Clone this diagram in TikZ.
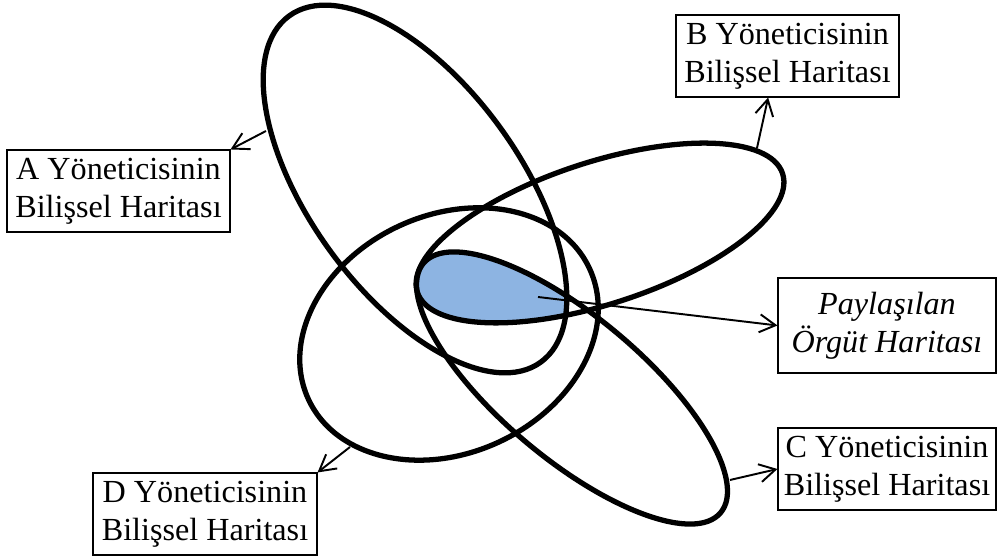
\documentclass[tikz,border=0pt]{standalone}
\usepackage{fontspec}
\setmainfont{Liberation Serif}
\usepackage{tikz}
\usetikzlibrary{arrows.meta, positioning}
\definecolor{sharedblue}{RGB}{141, 180, 226}

\begin{document}
\begin{tikzpicture}[
    every node/.style={font=\fontsize{18.3}{21.5}\selectfont},
    mapbox/.style={draw, line width=0.6pt, align=center, inner sep=0pt, minimum height=1.64cm},
    mapline/.style={line width=3pt},
    pointer/.style={-{Straight Barb[length=3.2mm, width=3.6mm]}, line width=1.1pt}]
  \useasboundingbox (0, 0) rectangle (19.94, 11.18);

  % Shared area (inside all four maps)
  \begin{scope}
    \clip[rotate around={-54:(8.30, 7.40)}] (8.30, 7.40) ellipse [x radius=4.28, y radius=2.10];
    \clip[rotate around={18:(12.00, 6.52)}] (12.00, 6.52) ellipse [x radius=3.84, y radius=1.42];
    \clip[rotate around={-40:(11.44, 3.42)}] (11.44, 3.42) ellipse [x radius=3.88, y radius=1.42];
    \clip[rotate around={25:(8.98, 4.50)}] (8.98, 4.50) ellipse [x radius=3.10, y radius=2.38];
    \fill[sharedblue] (0, 0) rectangle (19.94, 11.18);
  \end{scope}

  % Cognitive maps
  \draw[mapline, rotate around={-54:(8.30, 7.40)}]
    (8.30, 7.40) ellipse [x radius=4.28, y radius=2.10];
  \draw[mapline, rotate around={18:(12.00, 6.52)}]
    (12.00, 6.52) ellipse [x radius=3.84, y radius=1.42];
  \draw[mapline, rotate around={-40:(11.44, 3.42)}]
    (11.44, 3.42) ellipse [x radius=3.88, y radius=1.42];
  \draw[mapline, rotate around={25:(8.98, 4.50)}]
    (8.98, 4.50) ellipse [x radius=3.10, y radius=2.38];

  % Labels
  \node[mapbox, minimum width=4.46cm] (aBox) at (2.37, 7.36)
    {A Yöneticisinin\\Bilişsel Haritası};
  \node[mapbox, minimum width=4.46cm] (bBox) at (15.75, 10.06)
    {B Yöneticisinin\\Bilişsel Haritası};
  \node[mapbox, minimum width=4.36cm, minimum height=1.90cm] (pBox) at (17.74, 4.67)
    {\itshape Paylaşılan\\\itshape Örgüt Haritası};
  \node[mapbox, minimum width=4.36cm] (cBox) at (17.74, 1.80)
    {C Yöneticisinin\\Bilişsel Haritası};
  \node[mapbox, minimum width=4.48cm] (dBox) at (4.10, 0.90)
    {D Yöneticisinin\\Bilişsel Haritası};

  % Arrow starts on the maps
  \coordinate (aStart) at (5.32, 8.56);
  \coordinate (bStart) at (15.14, 8.22);
  \coordinate (pStart) at (10.76, 5.24);
  \coordinate (cStart) at (14.60, 1.58);
  \coordinate (dStart) at (7.00, 2.24);

  \draw[pointer] (aStart) -- (aBox.north east);
  \draw[pointer] (bStart) -- (bBox.245);
  \draw[pointer] (pStart) -- (pBox.west);
  \draw[pointer] (cStart) -- (cBox.west);
  \draw[pointer] (dStart) -- (dBox.north east);
\end{tikzpicture}
\end{document}
